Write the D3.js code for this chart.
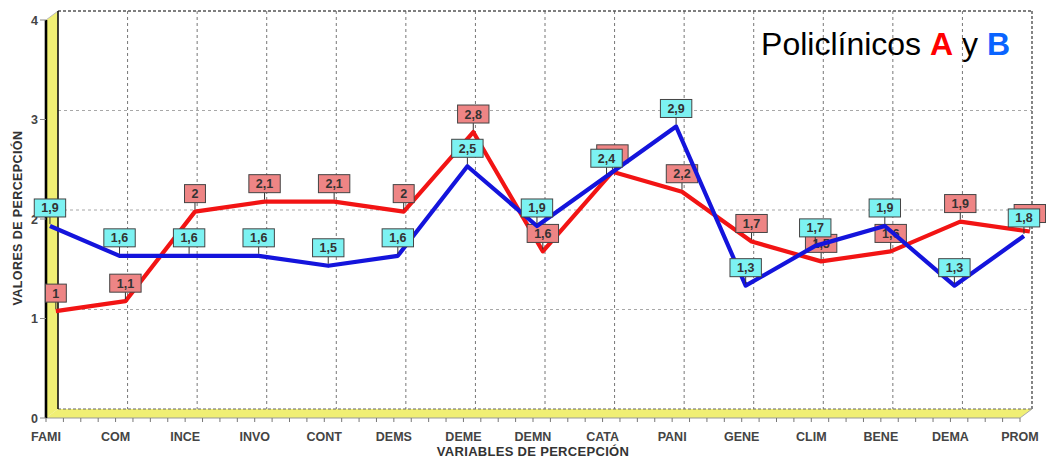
<!DOCTYPE html>
<html>
<head>
<meta charset="utf-8">
<script src="https://cdn.jsdelivr.net/npm/d3@7"></script>
<style>
  html, body { margin: 0; padding: 0; background: #fff; }
  svg { display: block; }
  text { font-family: "Liberation Sans", Arial, sans-serif; }
</style>
</head>
<body>
<svg id="chart" width="1046" height="461"></svg>
<script>
// Perception variables (x categories)
const categories = ["FAMI", "COM", "INCE", "INVO", "CONT", "DEMS", "DEME", "DEMN",
                    "CATA", "PANI", "GENE", "CLIM", "BENE", "DEMA", "PROM"];
// Policlínico A (red) and B (blue) perception values
const seriesA = [1, 1.1, 2, 2.1, 2.1, 2, 2.8, 1.6, 2.4, 2.2, 1.7, 1.5, 1.6, 1.9, 1.8];
const seriesB = [1.9, 1.6, 1.6, 1.6, 1.5, 1.6, 2.5, 1.9, 2.4, 2.9, 1.3, 1.7, 1.9, 1.3, 1.8];
const yTicks = [0, 1, 2, 3, 4];

const svg = d3.select("#chart");

// front-plane scales; the back wall is shifted by the depth vector
const x = d3.scalePoint().domain(categories).range([46, 1020]);
const y = d3.scaleLinear().domain([0, 4]).range([418, 20]);
const DX = 12, DY = -9;

const locale = d3.formatLocale({ decimal: ",", thousands: ".", grouping: [3], currency: ["", ""] });
const fmt = locale.format(".2~g");

const x0 = x(categories[0]), x1 = x(categories[categories.length - 1]);
const yTop = y(4), yBot = y(0);

// back wall
svg.append("rect")
  .attr("x", x0 + DX).attr("y", yTop + DY)
  .attr("width", x1 - x0).attr("height", yBot - yTop)
  .attr("fill", "#fff");

// horizontal grid on the back wall
svg.append("g").selectAll("line").data(yTicks.filter(t => t > 0 && t < 4)).join("line")
  .attr("x1", x0 + DX).attr("x2", x1 + DX)
  .attr("y1", d => y(d) + DY).attr("y2", d => y(d) + DY)
  .attr("stroke", "#a8a8a8").attr("stroke-width", 1.2).attr("stroke-dasharray", "3,3");

// vertical grid on the back wall
svg.append("g").selectAll("line").data(categories.slice(1, -1)).join("line")
  .attr("x1", d => x(d) + DX).attr("x2", d => x(d) + DX)
  .attr("y1", yTop + DY).attr("y2", yBot + DY)
  .attr("stroke", "#777").attr("stroke-width", 1).attr("stroke-dasharray", "3,3");

// top and right edges of the wall
svg.append("line").attr("x1", x0 + DX).attr("x2", x1 + DX)
  .attr("y1", yTop + DY).attr("y2", yTop + DY)
  .attr("stroke", "#555").attr("stroke-width", 1.3).attr("stroke-dasharray", "3,2");
svg.append("line").attr("x1", x1 + DX).attr("x2", x1 + DX)
  .attr("y1", yTop + DY).attr("y2", yBot + DY)
  .attr("stroke", "#444").attr("stroke-width", 1.3).attr("stroke-dasharray", "3,2");

// yellow floor and left wall
const yellow = "#f0ef74";
svg.append("polygon")
  .attr("points", [[x0, yBot], [x0 + DX, yBot + DY], [x1 + DX, yBot + DY], [x1, yBot]].join(" "))
  .attr("fill", yellow);
svg.append("polygon")
  .attr("points", [[x0, yTop], [x0 + DX, yTop + DY], [x0 + DX, yBot + DY], [x0, yBot]].join(" "))
  .attr("fill", yellow);

svg.append("line").attr("x1", x0 + DX).attr("x2", x1 + DX)
  .attr("y1", yBot + DY).attr("y2", yBot + DY)
  .attr("stroke", "#666").attr("stroke-width", 1.2).attr("stroke-dasharray", "3,2");
svg.append("line").attr("x1", x0).attr("x2", x1)
  .attr("y1", yBot).attr("y2", yBot)
  .attr("stroke", "#999").attr("stroke-width", 1);
svg.append("line").attr("x1", x1).attr("x2", x1 + DX)
  .attr("y1", yBot).attr("y2", yBot + DY)
  .attr("stroke", "#aaa").attr("stroke-width", 1);
svg.append("line").attr("x1", x0).attr("x2", x0 + DX)
  .attr("y1", yTop).attr("y2", yTop + DY)
  .attr("stroke", "#bbb").attr("stroke-width", 1);
svg.append("line").attr("x1", x0 + DX).attr("x2", x0 + DX)
  .attr("y1", yTop + DY).attr("y2", yBot + DY)
  .attr("stroke", "#111").attr("stroke-width", 1.6);
svg.append("line").attr("x1", x0).attr("x2", x0)
  .attr("y1", yTop).attr("y2", yBot)
  .attr("stroke", "#000").attr("stroke-width", 2.6);

// x ticks along the front floor edge (major + 3 minor per step)
const step = x.step();
const tickXs = [];
categories.forEach((c, i) => {
  for (let k = 0; k < 4; k++) {
    if (i === categories.length - 1 && k > 0) break;
    tickXs.push(x(c) + k * step / 4);
  }
});
svg.append("g").selectAll("line").data(tickXs).join("line")
  .attr("x1", d => d).attr("x2", d => d)
  .attr("y1", yBot).attr("y2", yBot + 4)
  .attr("stroke", "#777").attr("stroke-width", 1);

// category labels
svg.append("g").selectAll("text").data(categories).join("text")
  .attr("x", d => x(d)).attr("y", 441)
  .attr("text-anchor", "middle")
  .attr("font-size", 12.5).attr("font-weight", "bold")
  .attr("fill", "#444")
  .text(d => d);

// y ticks and labels
svg.append("g").selectAll("line").data(yTicks).join("line")
  .attr("x1", x0 - 6).attr("x2", x0)
  .attr("y1", d => y(d)).attr("y2", d => y(d))
  .attr("stroke", "#888").attr("stroke-width", 1);
svg.append("g").selectAll("text").data(yTicks).join("text")
  .attr("x", x0 - 8).attr("y", d => y(d) + 4.5)
  .attr("text-anchor", "end")
  .attr("font-size", 12.5).attr("font-weight", "bold")
  .attr("fill", "#444")
  .text(d => d);

// axis titles
svg.append("text")
  .attr("transform", "translate(22,218) rotate(-90)")
  .attr("text-anchor", "middle")
  .attr("font-size", 12.5).attr("font-weight", "bold").attr("fill", "#333")
  .attr("letter-spacing", 0.4)
  .text("VALORES DE PERCEPCIÓN");
svg.append("text")
  .attr("x", 533).attr("y", 456)
  .attr("text-anchor", "middle")
  .attr("font-size", 13).attr("font-weight", "bold").attr("fill", "#333")
  .attr("letter-spacing", 0.3)
  .text("VARIABLES DE PERCEPCIÓN");

// series, each placed at its own depth slot
const series = [
  { name: "A", values: seriesA, depth: 0.82, line: "#f21414", box: "#ee8585" },
  { name: "B", values: seriesB, depth: 0.33, line: "#1414dc", box: "#7cf2f2" }
];

series.forEach(s => {
  const px = (c) => x(c) + DX * s.depth;
  const py = (v) => y(v) + DY * s.depth;
  const pts = categories.map((c, i) => ({ c, v: s.values[i] }));

  svg.append("path")
    .datum(pts)
    .attr("fill", "none")
    .attr("stroke", s.line)
    .attr("stroke-width", 4.2)
    .attr("stroke-linejoin", "round")
    .attr("d", d3.line().x(d => px(d.c)).y(d => py(d.v)));

  const g = svg.append("g").selectAll("g").data(pts).join("g")
    .attr("transform", d => `translate(${px(d.c)},${py(d.v)})`);

  g.append("line")
    .attr("x1", 0).attr("x2", 0).attr("y1", -9).attr("y2", -2)
    .attr("stroke", "#333").attr("stroke-width", 1);

  const txt = g.append("text")
    .attr("x", 0).attr("y", -13.5)
    .attr("text-anchor", "middle")
    .attr("font-size", 12.5).attr("font-weight", "bold")
    .attr("fill", "#333")
    .text(d => fmt(d.v));

  txt.each(function () {
    const w = this.getComputedTextLength() + 14;
    d3.select(this.parentNode).insert("rect", "text")
      .attr("x", -w / 2).attr("y", -27).attr("width", w).attr("height", 18)
      .attr("fill", s.box).attr("stroke", "#444").attr("stroke-width", 1);
  });
});

// title at the top right
const title = svg.append("text")
  .attr("x", 1010).attr("y", 55)
  .attr("text-anchor", "end")
  .attr("font-size", 32)
  .attr("fill", "#000");
title.append("tspan").text("Policlínicos ");
title.append("tspan").attr("fill", "#ff0000").attr("font-weight", "bold").text("A");
title.append("tspan").text(" y ");
title.append("tspan").attr("fill", "#0a64ff").attr("font-weight", "bold").text("B");
</script>
</body>
</html>
